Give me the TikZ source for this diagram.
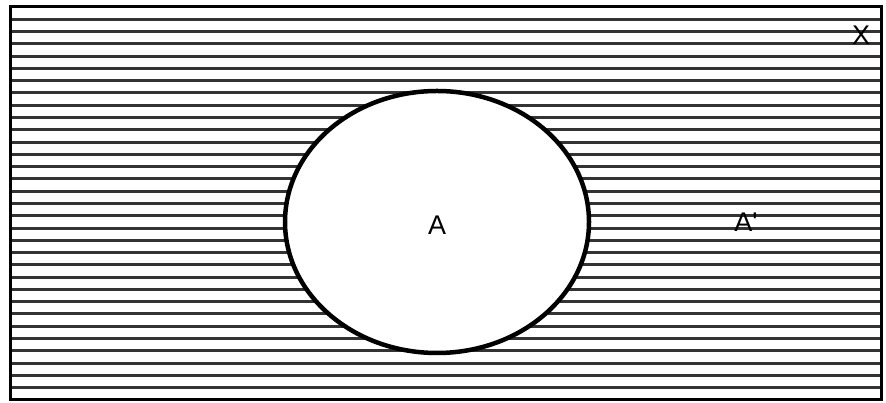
\documentclass[tikz,border=0pt]{standalone}
\usepackage{fontspec}
\setmainfont{Liberation Sans}
\usetikzlibrary{shapes.geometric}
\begin{document}
\begin{tikzpicture}[x=1pt,y=1pt,
  hatch/.style={line width=3pt,draw=black!80},
  frame/.style={line width=3pt,draw=black},
  setshape/.style={ellipse,line width=4.5pt,draw=black,fill=white,minimum width=304pt,minimum height=262pt,inner sep=0pt},
  lbl/.style={font=\fontsize{27}{27}\selectfont,inner sep=0pt}]
\useasboundingbox (0,0) rectangle (886,403);
\fill[white] (0,0) rectangle (886,403);
\foreach \k in {1,...,31}{
  \draw[hatch] (10,{396-12.28*\k}) -- (881,{396-12.28*\k});
}
\draw[frame] (10,3) rectangle (881,396);
\node[setshape] (A) at (437,181) {};
\node[lbl] (Alab) at (437,178) {A};
\node[lbl] (Acomp) at (746,181) {A\textquotesingle};
\node[lbl] (X) at (861,368) {X};
\end{tikzpicture}
\end{document}
